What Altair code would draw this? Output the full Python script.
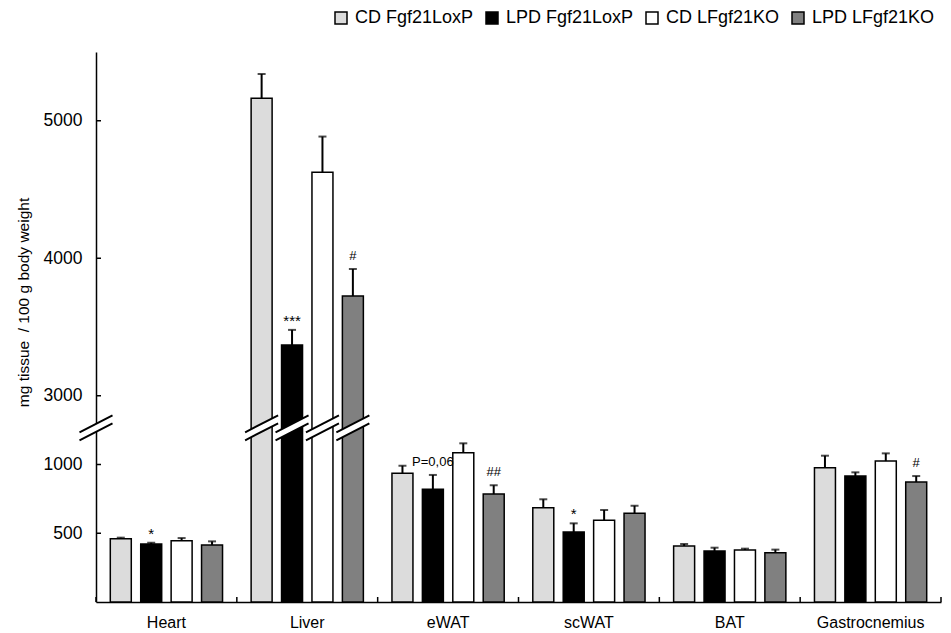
import altair as alt
import pandas as pd

# ---------------- data ----------------
groups = ["Heart", "Liver", "eWAT", "scWAT", "BAT", "Gastrocnemius"]
series = ["CD Fgf21LoxP", "LPD Fgf21LoxP", "CD LFgf21KO", "LPD LFgf21KO"]
colors = ["#dcdcdc", "#000000", "#ffffff", "#808080"]

cd_loxp = [460, 5163, 936, 686, 407, 977]
cd_loxp_se = [8, 177, 55, 61, 15, 87]
lpd_loxp = [422, 3369, 820, 509, 371, 916]
lpd_loxp_se = [9, 110, 104, 63, 24, 27]
cd_ko = [446, 4625, 1086, 594, 378, 1025]
cd_ko_se = [19, 260, 68, 75, 10, 56]
lpd_ko = [415, 3725, 785, 645, 359, 873]
lpd_ko_se = [26, 197, 64, 55, 22, 43]

annot_group = ["Heart", "Liver", "Liver", "eWAT", "eWAT", "scWAT", "Gastrocnemius"]
annot_series = ["LPD Fgf21LoxP", "LPD Fgf21LoxP", "LPD LFgf21KO", "LPD Fgf21LoxP",
                "LPD LFgf21KO", "LPD Fgf21LoxP", "LPD LFgf21KO"]
annot_label = ["*", "***", "#", "P=0,06", "##", "*", "#"]

y_ticks = [500, 1000, 3000, 4000, 5000]
y_title = "mg tissue \u00a0/ 100 g body weight"

# broken axis: values above the break are shifted down by GAP
GAP = 1500
BREAK = 1267      # position of the break, in lower-segment units
Y_MAX = 4000      # top of axis in display units (= 5500 real)

# ---------------- table ----------------
rows = []
for vals, ses, s in [(cd_loxp, cd_loxp_se, series[0]), (lpd_loxp, lpd_loxp_se, series[1]),
                     (cd_ko, cd_ko_se, series[2]), (lpd_ko, lpd_ko_se, series[3])]:
    for g, v, e in zip(groups, vals, ses):
        rows.append({"group": g, "series": s, "value": v, "se": e})
df = pd.DataFrame(rows)
lab = {(g, s): l for g, s, l in zip(annot_group, annot_series, annot_label)}
df["label"] = [lab.get((g, s), "") for g, s in zip(df["group"], df["series"])]

tick_df = pd.DataFrame({"t": [t - GAP if t > BREAK else t for t in y_ticks]})
grp_df = pd.DataFrame({"group": groups})
one_df = pd.DataFrame({"k": [0]})

W, H = 845, 550
FONT = "Liberation Sans"

shift = f"datum.value > {BREAK} ? datum.value - {GAP} : datum.value"
shift_err = f"(datum.value + datum.se) > {BREAK} ? datum.value + datum.se - {GAP} : datum.value + datum.se"

xenc = alt.X("group:N", sort=groups, title=None,
             scale=alt.Scale(paddingInner=0, paddingOuter=0),
             axis=alt.Axis(labelAngle=0, labelFontSize=16, ticks=False, labelPadding=12,
                           labelOverlap=False, labelBound=False,
                           domainColor="black", domainWidth=1.5, labelColor="black"))
xoff = alt.XOffset("series:N", sort=series,
                   scale=alt.Scale(paddingInner=0.31, paddingOuter=0.47))

yscale = alt.Scale(domain=[0, Y_MAX], nice=False, zero=True)
yaxis = alt.Axis(values=list(tick_df["t"]), grid=False, ticks=False,
                 labelExpr=f"datum.value > {BREAK} ? format(datum.value + {GAP}, 'd') : format(datum.value, 'd')",
                 labelFontSize=17.5, labelPadding=14, labelColor="black",
                 domainColor="black", domainWidth=1.5,
                 title=y_title, titleFontSize=15.5, titleFontWeight="normal",
                 titleColor="black", titleX=-73, titleY=250, titleBaseline="middle")

base = alt.Chart(df).transform_calculate(disp=shift, disp_err=shift_err)

bars = base.mark_bar(stroke="black", strokeWidth=1.5).encode(
    x=xenc, xOffset=xoff,
    y=alt.Y("disp:Q", scale=yscale, axis=yaxis),
    color=alt.Color("series:N", sort=series,
                    scale=alt.Scale(domain=series, range=colors),
                    legend=alt.Legend(title=None, orient="none", legendX=236, legendY=-43,
                                      direction="horizontal", columns=4,
                                      symbolType="square", symbolSize=144,
                                      symbolStrokeColor="black", symbolStrokeWidth=1.5,
                                      symbolOpacity=1, labelFontSize=18, labelOffset=5,
                                      columnPadding=9, padding=0, labelColor="black",
                                      labelLimit=300)),
)

err = base.mark_rule(color="black", strokeWidth=2).encode(
    x=xenc, xOffset=xoff, y="disp:Q", y2="disp_err:Q")

cap = base.mark_tick(color="black", orient="horizontal", size=8, thickness=2).encode(
    x=xenc, xOffset=xoff, y="disp_err:Q")

fill_path = "M -0.917 0.25 L 0.917 -0.694 L 0.917 -0.25 L -0.917 0.694 Z"
line_path = "M -0.917 0.25 L 0.917 -0.694 M -0.917 0.694 L 0.917 -0.25"

liver = base.transform_filter("datum.group == 'Liver'")
brk_fill = liver.mark_point(shape=fill_path, filled=True, color="white", opacity=1,
                            strokeWidth=0, size=1296).encode(
    x=xenc, xOffset=xoff, y=alt.datum(BREAK))
brk_line = liver.mark_point(shape=line_path, filled=False, color="black", opacity=1,
                            strokeWidth=2, size=1296).encode(
    x=xenc, xOffset=xoff, y=alt.datum(BREAK))

ax_fill = alt.Chart(one_df).mark_point(shape=fill_path, filled=True, color="white", opacity=1,
                                       strokeWidth=0, size=1296).encode(
    x=alt.value(0), y=alt.datum(BREAK))
ax_line = alt.Chart(one_df).mark_point(shape=line_path, filled=False, color="black", opacity=1,
                                       strokeWidth=2, size=1296).encode(
    x=alt.value(0), y=alt.datum(BREAK))

yt = alt.Chart(tick_df).mark_rule(color="black", strokeWidth=1.5).encode(
    y="t:Q", x=alt.value(0), x2=alt.value(5))

xt0 = alt.Chart(grp_df).mark_rule(color="black", strokeWidth=1.5).encode(
    x=alt.X("group:N", sort=groups, bandPosition=0), y=alt.value(H), y2=alt.value(H - 5))
xt1 = alt.Chart(grp_df).transform_filter(f"datum.group == '{groups[-1]}'").mark_rule(
    color="black", strokeWidth=1.5).encode(
    x=alt.X("group:N", sort=groups, bandPosition=1), y=alt.value(H), y2=alt.value(H - 5))

stars = base.transform_filter("indexof(datum.label, '*') >= 0").mark_text(
    fontSize=15, baseline="middle", dy=-9, color="black").encode(
    x=xenc, xOffset=xoff, y="disp_err:Q", text="label:N")
others = base.transform_filter("datum.label != '' && indexof(datum.label, '*') < 0").mark_text(
    fontSize=13, baseline="middle", dy=-13, color="black").encode(
    x=xenc, xOffset=xoff, y="disp_err:Q", text="label:N")

chart = alt.layer(bars, err, cap, brk_fill, brk_line, ax_fill, ax_line, yt, xt0, xt1,
                  stars, others).properties(
    width=W, height=H,
    autosize=alt.AutoSizeParams(type="none"),
    padding={"left": 88, "top": 44, "right": 2, "bottom": 31},
    background="white",
).configure(font=FONT).configure_view(stroke=None)

chart.save("out.html", embed_options={"renderer": "svg", "actions": False})
